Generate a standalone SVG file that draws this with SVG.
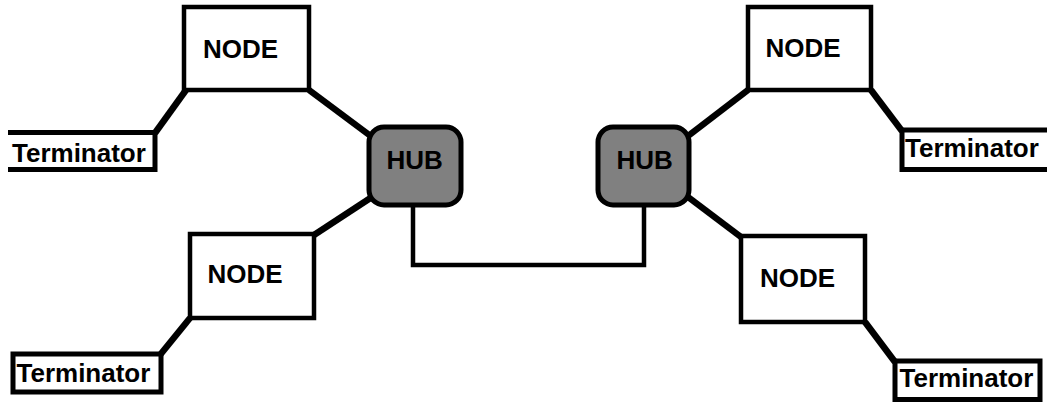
<svg xmlns="http://www.w3.org/2000/svg" width="1047" height="402" viewBox="0 0 1047 402">
<style>
.box{fill:#fff;stroke:#000;stroke-width:4.5}
.term{fill:#fff;stroke:#000;stroke-width:5}
.hub{fill:#808080;stroke:#000;stroke-width:5}
.lbl{font-family:"Liberation Sans",Arial,sans-serif;font-weight:bold;font-size:26px;fill:#000}
.c{fill:none;stroke:#000;stroke-width:6.5}
.link{fill:none;stroke:#000;stroke-width:4.5}
</style>
<rect width="1047" height="402" fill="#fff"/>
<g id="connectors">
<line class="c" x1="155" y1="133" x2="186" y2="90"/>
<line class="c" x1="309" y1="90" x2="372" y2="137"/>
<line class="c" x1="372" y1="197" x2="314" y2="235"/>
<line class="c" x1="190" y1="318" x2="160" y2="355"/>
<polyline class="link" points="413,205 413,265 644,265 644,205"/>
<line class="c" x1="688" y1="136" x2="748" y2="90"/>
<line class="c" x1="871" y1="90" x2="902" y2="131"/>
<line class="c" x1="688" y1="197" x2="741" y2="237"/>
<line class="c" x1="865" y1="322" x2="895" y2="362"/>
</g>
<g id="node-tl"><rect class="box" x="184" y="7" width="125" height="83"/><text class="lbl" x="203" y="57.5">NODE</text></g>
<g id="node-bl"><rect class="box" x="190" y="234" width="124" height="84"/><text class="lbl" x="207.5" y="283">NODE</text></g>
<g id="node-tr"><rect class="box" x="748" y="7" width="123" height="83"/><text class="lbl" x="765.5" y="57">NODE</text></g>
<g id="node-br"><rect class="box" x="741" y="236" width="124" height="86"/><text class="lbl" x="760" y="287">NODE</text></g>
<g id="hub-l"><rect class="hub" x="369" y="127" width="92" height="78" rx="15"/><text class="lbl" x="386.5" y="169">HUB</text></g>
<g id="hub-r"><rect class="hub" x="598" y="127" width="91" height="78" rx="15"/><text class="lbl" x="616.5" y="169">HUB</text></g>
<g id="term-tl"><path class="term" d="M8 132.5H155V169.5H8"/><text class="lbl" x="12" y="161.5">Terminator</text></g>
<g id="term-bl"><rect class="term" x="13" y="354" width="148" height="38"/><text class="lbl" x="16.5" y="381.5">Terminator</text></g>
<g id="term-tr"><path class="term" d="M1050 130H902V169.5H1050"/><text class="lbl" x="905" y="157">Terminator</text></g>
<g id="term-br"><rect class="term" x="895" y="361" width="145" height="38.5"/><text class="lbl" x="899.5" y="387">Terminator</text></g>
</svg>
